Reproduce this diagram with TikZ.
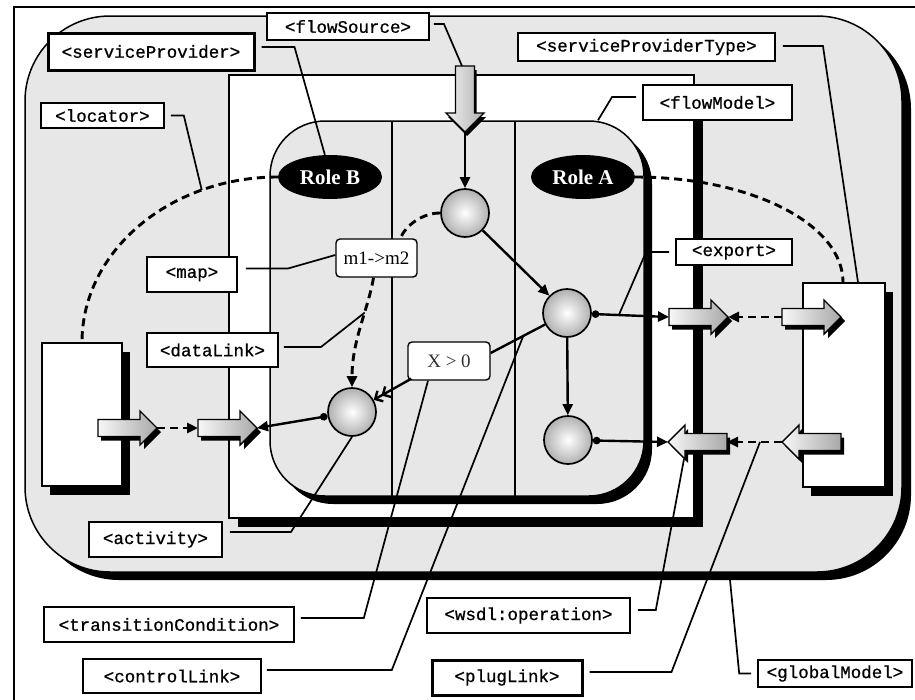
\documentclass[tikz,border=0pt]{standalone}
\usepackage{fontspec}
\setmainfont{Liberation Serif}
\setmonofont{Liberation Mono}
\newfontfamily\lblfont[FakeBold=0.8]{Liberation Mono}
\usetikzlibrary{arrows.meta,shapes.geometric,calc}
\definecolor{gmgray}{HTML}{E7E7E7}
\tikzset{
  shadowed/.style={preaction={fill=black, transform canvas={shift={(#1)}}}},
  container/.style={draw=black, line width=1.5pt, inner sep=0pt},
  lbl/.style={draw=black, fill=white, line width=1.9pt, inner sep=0pt, font=\lblfont\fontsize{17.5}{18}\selectfont},
  heavy/.style={line width=3pt},
  ldr/.style={line width=1.7pt},
  conn/.style={line width=2.4pt},
  arr/.style={-{Triangle[length=11pt,width=10pt]}},
  darr/.style={{Circle[length=7.5pt]}-{Triangle[length=11pt,width=10pt]}},
  dsh/.style={line width=2.9pt, dash pattern=on 8pt off 5pt},
  act/.style={circle, draw=black, line width=1.7pt, inner color=white, outer color=gray!62, minimum size=48pt, inner sep=0pt},
  role/.style={ellipse, fill=black, text=white, inner sep=0pt, minimum width=104pt, minimum height=44pt, font=\bfseries\fontsize{21}{22}\selectfont},
  cond/.style={draw=black, fill=white, line width=1.4pt, rounded corners=4pt, inner sep=0pt, font=\fontsize{19}{20}\selectfont},
  blk/.style={line width=1.4pt, left color=gray!6, right color=gray!68},
}
% right-pointing block arrow: name, tail x, y
\newcommand\blkR[3]{%
\begin{scope}[shift={(#2,#3)}]
\coordinate (#1-tail) at (0,0);
\coordinate (#1-tip) at (59,0);
\coordinate (#1-hb) at (43,17);
\fill[black] (3,-4.5) -- (46,-4.5) -- (46,-13) -- (63,4) -- (46,21) -- (46,12.5) -- (3,12.5) -- cycle;
\draw[blk] (0,-8.5) -- (42,-8.5) -- (42,-17) -- (59,0) -- (42,17) -- (42,8.5) -- (0,8.5) -- cycle;
\end{scope}}
% left-pointing block arrow: name, tip x, y
\newcommand\blkL[3]{%
\begin{scope}[shift={(#2,#3)}]
\coordinate (#1-tip) at (0,0);
\coordinate (#1-tail) at (59,0);
\coordinate (#1-hb) at (16,17);
\fill[black] (3,4) -- (20,-13) -- (20,-4.5) -- (62,-4.5) -- (62,12.5) -- (20,12.5) -- (20,21) -- cycle;
\draw[blk] (0,0) -- (17,-17) -- (17,-8.5) -- (59,-8.5) -- (59,8.5) -- (17,8.5) -- (17,17) -- cycle;
\end{scope}}
% down-pointing block arrow: name, x, tail y
\newcommand\blkD[3]{%
\begin{scope}[shift={(#2,#3)}]
\coordinate (#1-tail) at (0,0);
\coordinate (#1-tip) at (0,66);
\fill[black] (-7.5,4) -- (11.5,4) -- (11.5,51) -- (21,51) -- (2,70) -- (-17,51) -- (-7.5,51) -- cycle;
\draw[line width=1.4pt, left color=gray!12, right color=gray!60] (-9.5,0) -- (9.5,0) -- (9.5,47) -- (19,47) -- (0,66) -- (-19,47) -- (-9.5,47) -- cycle;
\end{scope}}

\begin{document}
\begin{tikzpicture}[x=1pt,y=-1pt]
\useasboundingbox (0,0) rectangle (915,699);
\fill[white] (0,0) rectangle (915,699);
\draw[line width=2.6pt] (14,705) -- (14,7) -- (920,7);

% containers
\node[container, fill=gmgray, rounded corners=85pt, minimum width=877pt, minimum height=556pt, shadowed={9pt,-8pt}] (gm) at (463.5,294) {};
\node[container, fill=white, minimum width=465pt, minimum height=443pt, shadowed={9pt,-9pt}] (spw) at (461.5,296.5) {};
\node[container, fill=gmgray, rounded corners=55pt, minimum width=374pt, minimum height=375pt, shadowed={8pt,-8pt}] (fm) at (457,308.5) {};
\draw[line width=1.5pt] (392,121) -- (392,496);
\draw[line width=1.5pt] (515,121) -- (515,496);
\node[container, fill=white, minimum width=80pt, minimum height=143pt, shadowed={8pt,-9pt}] (lbox) at (82,414.5) {};
\node[container, fill=white, minimum width=82pt, minimum height=204pt, shadowed={8pt,-9pt}] (rbox) at (844,385) {};
\coordinate (gmpt) at (730,580);

% nodes
\node[role] (roleB) at (330,177) {Role B};
\node[role] (roleA) at (583,177) {Role A};
\node[act] (c1) at (465,213) {};
\node[act] (c2) at (567,313) {};
\node[act] (c3) at (568,440) {};
\node[act] (c4) at (352,412) {};
\node[cond, minimum width=81pt, minimum height=38pt] (mm) at (376.5,258) {m1->m2};
\node[cond, minimum width=82pt, minimum height=38pt, text=black!80] (xc) at (449,361) {X > 0};

% locator dashed curves
\draw[dsh] (roleB.west) .. controls (170,177) and (82,251) .. (lbox.north) coordinate[pos=0.25] (locpt);
\draw[dsh] (roleA.east) .. controls (751,177) and (843,224) .. ($(rbox.north)+(-1,0)$);

% block arrows
\blkR{pb1}{98}{428}
\blkR{pb2}{198}{428}
\blkR{pe1}{669}{317}
\blkR{pe2}{782}{317}
\blkL{pl1}{668}{442}
\blkL{pl2}{782}{442}
\blkD{fsa}{465}{66}

% control links
\draw[conn, arr] (fsa-tip) -- (c1);
\draw[conn, arr] (c1) -- (c2);
\draw[conn, arr] (c2) -- (c3);
\draw[conn] (c2) -- ($(xc.east)+(0,-8)$) coordinate[pos=0.4] (clpt);
\draw[conn, -{Straight Barb[length=6pt,width=12pt]Straight Barb[length=6pt,width=12pt]}] ($(xc.south west)+(4,-2)$) -- (c4);
% data links
\draw[dsh] (c1.west) .. controls (422,213) and (405,226) .. ($(mm.north)+(24,0)$);
\draw[dsh, arr] ($(mm.south)+(-3,0)$) .. controls (368,310) and (352,340) .. (c4.north) coordinate[pos=0.36] (dlpt);
% plug links
\draw[conn, darr] (c4) -- (pb2-tip);
\draw[dsh, arr] (pb1-tip) -- (pb2-tail);
\draw[conn, darr] (c2) -- (pe1-tail) coordinate[pos=0.35] (expt);
\draw[dsh, arr] (pe2-tail) -- (pe1-tip);
\draw[conn, darr] (c3) -- (pl1-tip);
\draw[dsh, arr] (pl2-tip) -- (pl1-tail) coordinate[pos=0.4] (plpt);

% labels
\node[lbl, minimum width=162pt, minimum height=27pt] (Lfs) at (348,26.5) {<flowSource>};
\node[lbl, heavy, minimum width=206pt, minimum height=37pt] (Lsp) at (151,51.5) {<serviceProvider>};
\node[lbl, line width=1.6pt, minimum width=123pt, minimum height=25pt] (Lloc) at (102.5,115.5) {<locator>};
\node[lbl, minimum width=257pt, minimum height=28pt] (Lspt) at (646.5,47) {<serviceProviderType>};
\node[lbl, minimum width=149pt, minimum height=35pt] (Lfm) at (717.5,102.5) {<flowModel>};
\node[lbl, minimum width=116pt, minimum height=26pt] (Lex) at (734,252) {<export>};
\node[lbl, minimum width=90pt, minimum height=35pt] (Lmap) at (192,274.5) {<map>};
\node[lbl, minimum width=131pt, minimum height=34pt] (Ldl) at (212.5,350) {<dataLink>};
\node[lbl, minimum width=133pt, minimum height=35pt] (Lact) at (155.5,539.5) {<activity>};
\node[lbl, line width=1.6pt, minimum width=250pt, minimum height=35pt] (Ltc) at (169,624.5) {<transitionCondition>};
\node[lbl, line width=1.6pt, minimum width=178pt, minimum height=34pt] (Lcl) at (172,676) {<controlLink>};
\node[lbl, line width=1.6pt, minimum width=203pt, minimum height=35pt] (Lws) at (528.5,615.5) {<wsdl:operation>};
\node[lbl, heavy, minimum width=150pt, minimum height=35pt] (Lpl) at (507,677.5) {<plugLink>};
\node[lbl, line width=1.6pt, minimum width=154pt, minimum height=27pt] (Lgm) at (835,673.5) {<globalModel>};

% leaders
\draw[ldr] ($(Lfs.east)+(4,-2.5)$) -- ++(10,0) -- ($(fsa-tail)+(-3,0)$);
\draw[ldr] ($(Lsp.east)+(6,-4.5)$) -- ++(33,0) -- (roleB.103);
\draw[ldr] ($(Lloc.east)+(6,0)$) -- ++(13,0) -- (locpt);
\draw[ldr] ($(Lmap.east)+(8,-6)$) -- ++(42,0) -- ($(mm.west)+(0,-3)$);
\draw[ldr] ($(Ldl.east)+(5,-3)$) -- ++(37,0) -- (dlpt);
\draw[ldr] ($(Lact.east)+(7,-7.5)$) -- ++(61,0) -- (c4.south);
\draw[ldr] ($(Ltc.east)+(6,-6.5)$) -- ++(63,0) -- ($(xc.south)+(-21,0)$);
\draw[ldr] ($(Lcl.east)+(5,-6)$) -- ++(125,0) -- (clpt);
\draw[ldr] ($(Lws.east)+(7,-5.5)$) -- ++(18,0) -- (pl1-hb);
\draw[ldr] ($(Lpl.east)+(6,-5.5)$) -- ++(82,0) -- (plpt);
\draw[ldr] ($(Lgm.west)+(-6,0)$) -- ++(-12,0) -- (gmpt);
\draw[ldr] ($(Lspt.east)+(7,-1)$) -- ++(40,0) -- ($(rbox.north)+(14,0)$);
\draw[ldr] ($(Lfm.west)+(-6,-5.5)$) -- ++(-24,0) -- ($(fm.north)+(141,0)$);
\draw[ldr] ($(Lex.west)+(-6,0)$) -- ++(-23,0) -- (expt);
\end{tikzpicture}
\end{document}
